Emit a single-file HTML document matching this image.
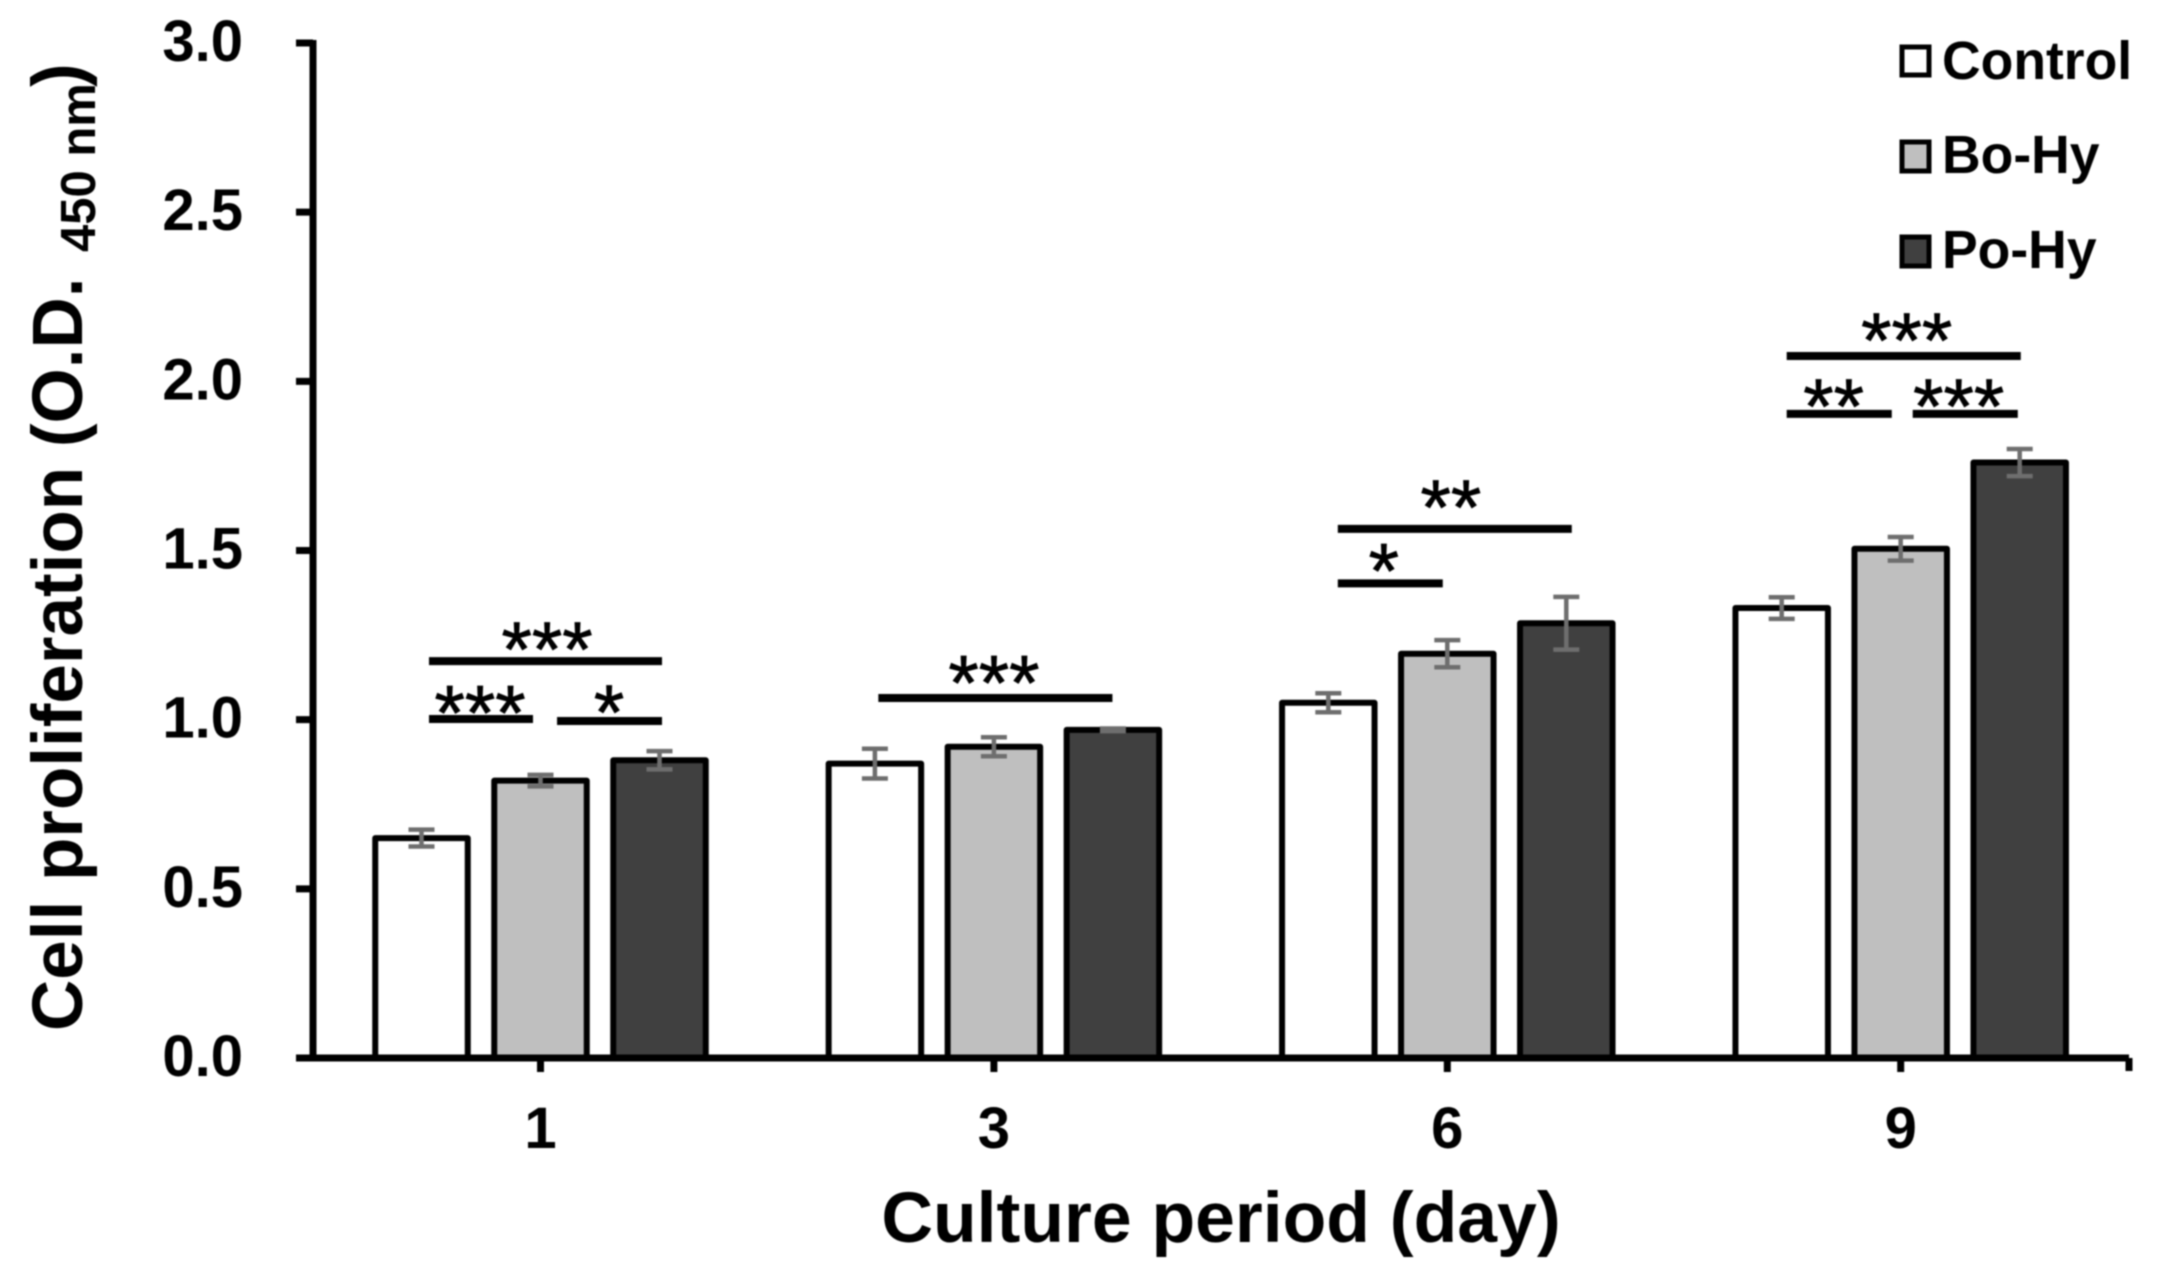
<!DOCTYPE html>
<html lang="en">
<head>
<meta charset="utf-8">
<title>Cell proliferation chart</title>
<style>
html,body{margin:0;padding:0;background:#fff;width:2164px;height:1277px;overflow:hidden}
svg{display:block;filter:blur(0.7px)}
text{font-family:"Liberation Sans",sans-serif;font-weight:bold;fill:#000}
text.stars{font-weight:normal;stroke:#000;stroke-width:0.8px}
</style>
</head>
<body>
<svg id="chart" xmlns="http://www.w3.org/2000/svg" width="2164" height="1277" viewBox="0 0 2164 1277">
  <rect width="2164" height="1277" fill="#fff"/>
  <g id="marks"></g>
  <text transform="translate(82,1031) rotate(-90)" font-size="71">Cell proliferation (O.D.</text>
  <text transform="translate(95,252) rotate(-90)" font-size="49">450 nm</text>
  <text transform="translate(82,87) rotate(-90)" font-size="71">)</text>
  <text x="1221" y="1242" font-size="71.5" text-anchor="middle">Culture period (day)</text>
  <g>
    <rect x="1902" y="47" width="27" height="28" fill="#fff" stroke="#000" stroke-width="5"/>
    <text x="1942" y="79" font-size="53.5">Control</text>
    <rect x="1902" y="142" width="27" height="29" fill="#bfbfbf" stroke="#000" stroke-width="5"/>
    <text x="1942" y="173" font-size="53.5">Bo-Hy</text>
    <rect x="1902" y="237" width="27" height="29" fill="#404040" stroke="#000" stroke-width="5"/>
    <text x="1942" y="268" font-size="53.5">Po-Hy</text>
  </g>
</svg>
<script>
// Chart data
const categories = ["1", "3", "6", "9"];
const seriesNames = ["Control", "Bo-Hy", "Po-Hy"];
const controlValues = [0.65, 0.87, 1.05, 1.33];
const boHyValues = [0.82, 0.92, 1.195, 1.505];
const poHyValues = [0.88, 0.97, 1.285, 1.76];
const controlErrors = [0.025, 0.044, 0.028, 0.032];
const boHyErrors = [0.017, 0.028, 0.04, 0.035];
const poHyErrors = [0.027, 0.004, 0.078, 0.04];
const yTickLabels = ["0.0", "0.5", "1.0", "1.5", "2.0", "2.5", "3.0"];

// Significance brackets: category index, span in bar slots, level in axis units
const sigGroup = [0, 0, 0, 1, 2, 2, 3, 3, 3];
const sigFrom = [-0.937, -0.937, 0.139, -0.971, -0.92, -0.92, -0.958, -0.958, 0.101];
const sigTo = [1.021, -0.063, 1.021, 0.996, 1.046, -0.038, 1.009, -0.075, 0.984];
const sigLevel = [1.173, 1.002, 0.996, 1.064, 1.564, 1.403, 2.075, 1.904, 1.904];
const sigStars = ["***", "***", "*", "***", "**", "*", "***", "**", "***"];
const sigStarSlot = [0.055, -0.508, 0.576, 0, 0.03, -0.534, 0.05, -0.564, 0.487];
const sigStarLevel = [1.244, 1.056, 1.058, 1.145, 1.664, 1.476, 2.158, 1.963, 1.963];

// Axis functions
const SVGNS = "http://www.w3.org/2000/svg";
const yAxisMax = parseFloat(yTickLabels[yTickLabels.length - 1]);
const yZero = 1058, yTop = 43;
function yScale(v) { return yZero - (v / yAxisMax) * (yZero - yTop); }
const xFirst = 540.5, xStep = 453.4, slotStep = 119;
function xScale(groupIndex, slot) { return xFirst + groupIndex * xStep + slot * slotStep; }

const root = document.getElementById("marks");
function make(tag, attrs, parent) {
  const el = document.createElementNS(SVGNS, tag);
  for (const k in attrs) el.setAttribute(k, attrs[k]);
  (parent || root).appendChild(el);
  return el;
}

// Bars and error bars
const barValues = [controlValues, boHyValues, poHyValues];
const barErrors = [controlErrors, boHyErrors, poHyErrors];
const barFills = ["#ffffff", "#bfbfbf", "#404040"];
const barWidth = 92.5;
seriesNames.forEach(function (name, s) {
  const key = name.toLowerCase();
  categories.forEach(function (cat, g) {
    const cx = xScale(g, s - 1);
    const top = yScale(barValues[s][g]);
    const bar = make("rect", { x: cx - barWidth / 2, y: top, width: barWidth, height: yZero - top, fill: barFills[s], stroke: "#000", "stroke-width": 6, "stroke-linejoin": "round" });
    
    
  });
});
seriesNames.forEach(function (name, s) {
  const key = name.toLowerCase();
  categories.forEach(function (cat, g) {
    const cx = xScale(g, s - 1);
    const hi = yScale(barValues[s][g] + barErrors[s][g]);
    const lo = yScale(barValues[s][g] - barErrors[s][g]);
    const d = "M" + (cx - 13) + " " + hi + "H" + (cx + 13) + "M" + cx + " " + hi + "V" + lo + "M" + (cx - 13) + " " + lo + "H" + (cx + 13);
    const err = make("path", { d: d, fill: "none", stroke: "#6e6e6e", "stroke-width": 4.5 });
    
    
  });
});

// Axes
const yAxisX = 313, xAxisEnd = 2129;
const yAxisLine = make("line", { x1: yAxisX, y1: yTop - 3, x2: yAxisX, y2: yZero + 3, stroke: "#000", "stroke-width": 7 });


const xAxisLine = make("line", { x1: yAxisX - 3, y1: yZero, x2: xAxisEnd, y2: yZero, stroke: "#000", "stroke-width": 7 });


const xEndTick = make("line", { x1: xAxisEnd, y1: yZero, x2: xAxisEnd, y2: yZero + 13, stroke: "#000", "stroke-width": 7 });



yTickLabels.forEach(function (label) {
  const y = yScale(parseFloat(label));
  const tick = make("line", { x1: yAxisX - 17, y1: y, x2: yAxisX, y2: y, stroke: "#000", "stroke-width": 7 });
  
  
  const t = make("text", { x: 243, y: y + 18, "font-size": 58, "text-anchor": "end" });
  t.textContent = label;
  
  
});
categories.forEach(function (cat, g) {
  const x = xScale(g, 0);
  const tick = make("line", { x1: x, y1: yZero, x2: x, y2: yZero + 14, stroke: "#000", "stroke-width": 7 });
  
  
  const t = make("text", { x: x, y: 1148, "font-size": 58, "text-anchor": "middle" });
  t.textContent = cat;
  
  
});

// Significance brackets and stars
sigGroup.forEach(function (g, i) {
  const y = yScale(sigLevel[i]);
  const line = make("line", { x1: xScale(g, sigFrom[i]), y1: y, x2: xScale(g, sigTo[i]), y2: y, stroke: "#000", "stroke-width": 8 });
  
  
  const s = make("text", { x: xScale(g, sigStarSlot[i]), y: yScale(sigStarLevel[i]) + 39, "font-size": 78, "text-anchor": "middle", "class": "stars" });
  s.textContent = sigStars[i];
  
  
});
</script>
</body>
</html>
